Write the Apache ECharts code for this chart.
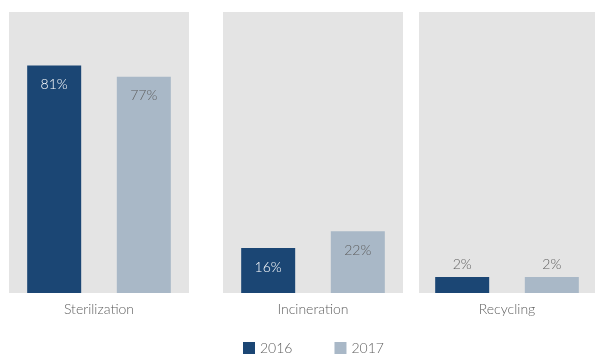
<!DOCTYPE html>
<html><head><meta charset="utf-8">
<script src="https://cdn.jsdelivr.net/npm/echarts@6/dist/echarts.min.js"></script>
<style>html,body{margin:0;padding:0;background:#fff}#c{width:595px;height:356px}</style>
</head><body><div id="c"></div>
<script>
const categories = ['Sterilization', 'Incineration', 'Recycling'];
const seriesNames = ['2016', '2017'];
const values2016 = [81, 16, 2];
const values2017 = [77, 22, 2];
const colors = ['#1b4674', '#a9b8c7'];
const labelColors = ['#ffffff', '#5f5f5f'];
const panelLefts = [9, 223, 419];
const FONT = 'Lato, "Open Sans", sans-serif';

const chart = echarts.init(document.getElementById('c'));
const grids = [], xAxes = [], yAxes = [], series = [];
categories.forEach((cat, i) => {
  grids.push({ left: panelLefts[i], top: 12, width: 180, height: 281, show: true,
    backgroundColor: '#e4e4e4', borderWidth: 0 });
  xAxes.push({ type: 'category', gridIndex: i, data: [cat],
    axisLine: { show: false }, axisTick: { show: false },
    axisLabel: { color: '#5f5f5f', fontSize: 14, fontWeight: 300, fontFamily: FONT, margin: 9 } });
  yAxes.push({ type: 'value', gridIndex: i, min: 0, max: 100, show: false });
  [values2016, values2017].forEach((vals, s) => {
    const v = vals[i];
    const small = v < 10;
    series.push({
      name: seriesNames[s], type: 'bar', xAxisIndex: i, yAxisIndex: i,
      barWidth: 54, barGap: '66%', barMinHeight: 16,
      itemStyle: { color: colors[s] },
      label: { show: true, position: small ? 'top' : 'insideTop', distance: small ? 6 : 12,
        formatter: '{c}%', fontSize: 14, fontWeight: 300, fontFamily: FONT,
        color: small ? '#5f5f5f' : labelColors[s] },
      data: [v]
    });
  });
});

chart.setOption({
  animation: false,
  legend: { data: seriesNames, left: 238, top: 336, itemWidth: 12, itemHeight: 12, itemGap: 42,
    icon: 'rect', textStyle: { color: '#5f5f5f', fontSize: 14, fontWeight: 300, fontFamily: FONT } },
  grid: grids, xAxis: xAxes, yAxis: yAxes, series: series
});
</script></body></html>
